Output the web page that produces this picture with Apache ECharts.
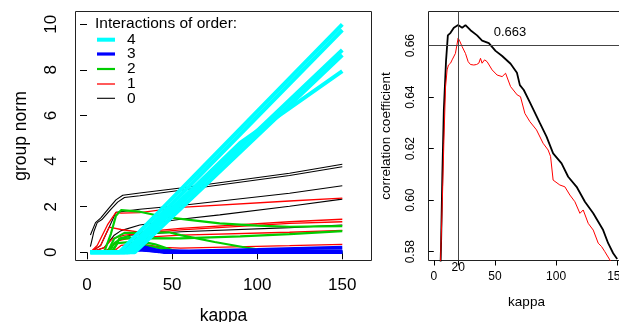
<!DOCTYPE html>
<html>
<head>
<meta charset="utf-8">
<script src="https://cdn.jsdelivr.net/npm/echarts@6/dist/echarts.min.js"></script>
<style>
  html, body { margin: 0; padding: 0; background: #fff; }
  #main { width: 619px; height: 322px; }
</style>
</head>
<body>
<div id="main"></div>
<script>
// group norm paths vs kappa, one list of [kappa, norm] per group, by interaction order
const order0 = [
  [[2,0.76],[5,1.3],[8,1.5],[13,1.95],[17,2.3],[21,2.5],[31,2.6],[55,2.82],[119,3.47],[150,3.86]],
  [[2,0.25],[4,0.9],[6,1.3],[9,1.45],[14,1.88],[18,2.2],[22,2.4],[31,2.48],[55,2.72],[119,3.37],[150,3.75]],
  [[2,0],[8,0.3],[13,1.1],[17,1.75],[31,1.89],[55,2.05],[119,2.59],[150,2.92]],
  [[2,0],[10,0.2],[16,0.75],[20,0.95],[31,1.2],[55,1.45],[78,1.64],[119,2.02],[150,2.33]],
  [[2,0],[12,0.1],[18,0.5],[25,0.75],[55,0.9],[119,1.08],[150,1.2]]
];
const order1 = [
  [[2,0],[6,0.3],[12,1.2],[17,1.75],[20,1.72],[31,1.74],[55,1.97],[119,2.25],[150,2.38]],
  [[2,0],[8,0.3],[13,1.1],[20,1.0],[31,0.88],[55,1.05],[119,1.34],[150,1.45]],
  [[2,0],[10,0.2],[15,0.6],[22,0.75],[31,0.82],[55,0.98],[119,1.27],[150,1.34]],
  [[2,0],[12,0.1],[18,0.5],[25,0.62],[55,0.75],[119,0.88],[150,0.96]],
  [[2,0],[15,0],[20,0.3],[30,0.38],[45,0.22],[55,0.18],[119,0.29],[150,0.35]]
];
const order2 = [
  [[2,0],[10,0],[14,0.8],[17,1.6],[20,1.85],[31,1.78],[45,1.56],[60,1.42],[78,1.27],[100,1.17],[119,1.12],[150,1.15]],
  [[2,0],[13,0],[16,0.4],[20,0.6],[30,0.62],[55,0.61],[90,0.7],[119,0.8],[150,0.93]],
  [[2,0],[12,0],[16,0.6],[22,0.85],[35,0.85],[48,0.88],[55,0.75],[75,0.45],[94,0.2],[105,0.08],[150,0.05]],
  [[2,0],[14,0],[18,0.4],[25,0.45],[31,0.35],[45,0.15],[55,0],[150,0]],
  [[2,0],[15,0],[19,0.6],[24,0.7],[30,0.5],[40,0.35],[50,0.1],[60,0],[150,0]]
];
const order3 = [
  [[2,0],[22,0],[25,0.3],[33,0.25],[40,0.08],[45,0],[150,0]],
  [[2,0],[24,0],[28,0.22],[36,0.15],[42,0.03],[60,0],[150,0.03]],
  [[2,0],[26,0],[30,0.15],[40,0.05],[60,0.05],[100,0.12],[150,0.22]],
  [[2,0],[25,0],[30,0.1],[42,0.05],[55,0.02],[150,0.06]],
  [[2,0],[23,0],[27,0.18],[35,0.2],[43,0.06],[60,0.03],[150,0]]
];
const order4 = [
  [[2,0],[19,0],[150,10.0]],
  [[2,0],[22,0],[150,9.75]],
  [[2,0],[25,0],[150,8.87]],
  [[2,0],[28,0],[150,8.65]],
  [[2,0],[24,0],[40,1.2],[90,4.8],[150,7.95]]
];

// correlation coefficient vs kappa
const corrBlack = [[2,0.50],[5,0.565],[6,0.584],[7,0.61],[8.2,0.635],[10,0.654],[11.5,0.664],[13.7,0.665],[16.4,0.667],[19.9,0.668],[23.2,0.667],[25.9,0.668],[30,0.666],[35.4,0.664],[39.5,0.662],[45,0.661],[50.5,0.658],[55.9,0.656],[62.8,0.653],[68,0.6495],[70.4,0.6447],[73.6,0.6428],[78.6,0.638],[86.7,0.630],[92.2,0.6247],[97.6,0.6182],[104.5,0.6143],[109.9,0.6091],[116.8,0.6052],[123.6,0.5994],[130.4,0.5949],[138.5,0.5884],[142.6,0.5833],[146.7,0.5794],[150,0.5772]];
const corrRed = [[2,0.50],[5.5,0.5765],[7,0.60],[8.2,0.622],[9.6,0.644],[10.9,0.6506],[12,0.6525],[13.7,0.6532],[15,0.6545],[16.4,0.6551],[17.7,0.657],[19.9,0.663],[21.5,0.6615],[23.2,0.6596],[25.9,0.657],[28.1,0.6538],[30,0.6527],[32.7,0.6525],[35,0.6527],[36.8,0.6532],[38.2,0.6551],[39.5,0.6532],[41.5,0.6545],[43.6,0.6538],[47.7,0.6506],[51.8,0.6486],[55.9,0.648],[58.7,0.6493],[62.8,0.6441],[68.2,0.6409],[70.9,0.6402],[71.8,0.6396],[74.5,0.6337],[78.6,0.6305],[84,0.6273],[89.4,0.6221],[93.5,0.6195],[95.5,0.617],[97.6,0.6078],[103.1,0.6059],[107.2,0.6052],[111.3,0.602],[115.4,0.5994],[119.5,0.5949],[122.2,0.5962],[126.3,0.591],[130.4,0.5884],[134.5,0.5833],[137.2,0.582],[139.9,0.58],[144,0.5768],[150,0.571]];

const bestKappa = 20;
const bestCorr = 0.663;

const leftXTicks = [0, 50, 100, 150];
const leftYTicks = [0, 2, 4, 6, 8, 10];
const rightXTicks = [0, 50, 100, 150];
const rightYTicks = [0.58, 0.60, 0.62, 0.64, 0.66];

const groups = [
  { name: '4', paths: order4, color: '#00FFFF', width: 4 },
  { name: '3', paths: order3, color: '#0000FF', width: 3.2 },
  { name: '2', paths: order2, color: '#00CD00', width: 2.2 },
  { name: '1', paths: order1, color: '#FF0000', width: 1.3 },
  { name: '0', paths: order0, color: '#000000', width: 1.1 }
];

const font = 'Liberation Sans';
const rightYMin = 0.57658;

const series = [];
// draw low orders first so cyan ends up on top
groups.slice().reverse().forEach(g => {
  g.paths.forEach(p => {
    series.push({
      type: 'line', name: g.name, xAxisIndex: 0, yAxisIndex: 0,
      data: p, symbol: 'none', color: g.color,
      lineStyle: { width: g.width, color: g.color },
      silent: true
    });
  });
});

series.push({
  type: 'line', name: 'black', xAxisIndex: 1, yAxisIndex: 1,
  data: corrBlack, symbol: 'none', color: '#000',
  lineStyle: { width: 1.8, color: '#000' }, silent: true,
  markLine: {
    silent: true, symbol: 'none',
    lineStyle: { color: '#444', width: 1, type: 'solid' },
    label: { show: false },
    data: [{ xAxis: bestKappa }, { yAxis: bestCorr }]
  },
  markPoint: {
    silent: true, symbol: 'circle', symbolSize: 0,
    data: [
      { coord: [62.3, bestCorr], label: { show: true, position: 'inside', offset: [0, -6], formatter: String(bestCorr), fontSize: 13, fontFamily: font, color: '#000' } },
      { coord: [bestKappa, rightYMin], label: { show: true, position: 'inside', offset: [0, 7.5], formatter: String(bestKappa), fontSize: 12, fontFamily: font, color: '#000' } }
    ]
  }
});
series.push({
  type: 'line', name: 'red', xAxisIndex: 1, yAxisIndex: 1,
  data: corrRed, symbol: 'none', color: '#FF0000',
  lineStyle: { width: 1, color: '#FF0000' }, silent: true
});

const legendCenters = [40.7, 55, 70, 85, 99.3];
const legends = groups.map((g, i) => ({
  data: [g.name], left: 97, top: legendCenters[i] - 9, padding: 0,
  icon: 'rect', itemWidth: 18, itemHeight: g.width,
  selectedMode: false,
  textStyle: { fontSize: 15.5, fontFamily: font, color: '#000', padding: [0, 0, 0, 7] }
}));

const chart = echarts.init(document.getElementById('main'));
chart.setOption({
  animation: false,
  backgroundColor: '#fff',
  textStyle: { fontFamily: font },
  title: {
    text: 'Interactions of order:', left: 95, top: 16, padding: 0,
    textStyle: { fontSize: 15.5, fontWeight: 'normal', fontFamily: font, color: '#000' }
  },
  legend: legends,
  grid: [
    { left: 75.5, top: 11.5, width: 296, height: 249, show: true, borderColor: '#222', borderWidth: 1,
      containLabel: false, outerBoundsMode: 'none' },
    { left: 428.5, top: 11.5, width: 196, height: 249, show: true, borderColor: '#222', borderWidth: 1,
      containLabel: false, outerBoundsMode: 'none' }
  ],
  xAxis: [
    {
      gridIndex: 0, type: 'value', min: -6.76, max: 167.16,
      name: 'kappa', nameLocation: 'middle', nameGap: 47,
      nameTextStyle: { fontSize: 17.5, fontFamily: font, color: '#000' },
      axisLine: { show: false },
      axisTick: { show: true, length: 7, customValues: leftXTicks, lineStyle: { color: '#000' } },
      axisLabel: { customValues: leftXTicks, fontSize: 17, fontFamily: font, color: '#000', margin: 16 },
      splitLine: { show: false }
    },
    {
      gridIndex: 1, type: 'value', min: -4.33, max: 155.97,
      name: 'kappa', nameLocation: 'middle', nameGap: 35,
      nameTextStyle: { fontSize: 13.5, fontFamily: font, color: '#000' },
      axisLine: { show: false },
      axisTick: { show: true, length: 5, customValues: [0, bestKappa, 50, 100, 150], lineStyle: { color: '#000' } },
      axisLabel: { customValues: rightXTicks, fontSize: 12, fontFamily: font, color: '#000', margin: 10 },
      splitLine: { show: false }
    }
  ],
  yAxis: [
    {
      gridIndex: 0, type: 'value', min: -0.36, max: 10.561,
      name: 'group norm', nameLocation: 'middle', nameGap: 45, nameRotate: 90,
      nameTextStyle: { fontSize: 17.5, fontFamily: font, color: '#000' },
      axisLine: { show: false },
      axisTick: { show: true, length: 7, customValues: leftYTicks, lineStyle: { color: '#000' } },
      axisLabel: { customValues: leftYTicks, rotate: 90, fontSize: 17, fontFamily: font, color: '#000', margin: 16 },
      splitLine: { show: false }
    },
    {
      gridIndex: 1, type: 'value', min: rightYMin, max: 0.67328,
      name: 'correlation coefficient', nameLocation: 'middle', nameGap: 35, nameRotate: 90,
      nameTextStyle: { fontSize: 13.5, fontFamily: font, color: '#000' },
      axisLine: { show: false },
      axisTick: { show: true, length: 5, customValues: rightYTicks, lineStyle: { color: '#000' } },
      axisLabel: { customValues: rightYTicks, rotate: 90, fontSize: 12, fontFamily: font, color: '#000', margin: 12,
        formatter: v => v.toFixed(2) },
      splitLine: { show: false }
    }
  ],
  series: series
});
</script>
</body>
</html>
